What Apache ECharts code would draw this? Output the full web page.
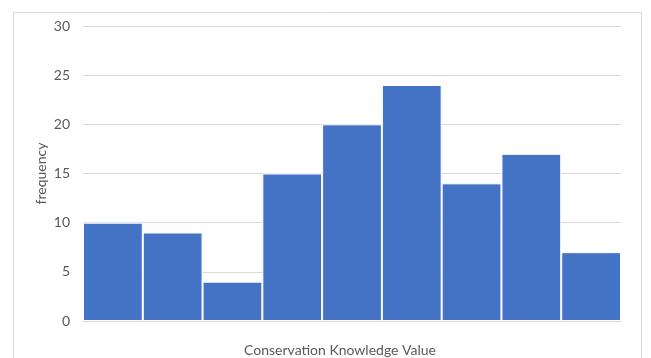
<!DOCTYPE html>
<html>
<head>
<meta charset="utf-8">
<script src="https://cdn.jsdelivr.net/npm/echarts@6/dist/echarts.min.js"></script>
<style>
  html, body { margin: 0; padding: 0; background: #fff; }
  #main { width: 651px; height: 358px; }
</style>
</head>
<body>
<div id="main"></div>
<script>
var chart = echarts.init(document.getElementById('main'));

// histogram bins (no labels shown on the x axis)
var bins = ['b1', 'b2', 'b3', 'b4', 'b5', 'b6', 'b7', 'b8', 'b9'];
var frequency = [10, 9, 4, 15, 20, 24, 14, 17, 7];
var yTicks = [0, 5, 10, 15, 20, 25, 30];

var font = 'Lato';

var option = {
    backgroundColor: '#fff',
    animation: false,
    graphic: [{
        type: 'rect',
        left: 11,
        top: 10,
        shape: { width: 628, height: 360 },
        style: { fill: 'none', stroke: '#d9d9d9', lineWidth: 1 },
        silent: true
    }],
    grid: { left: 83, right: 30, top: 26, bottom: 37, outerBoundsMode: 'none', containLabel: false },
    xAxis: {
        type: 'category',
        data: bins,
        name: 'Conservation Knowledge Value',
        nameLocation: 'middle',
        nameGap: 22,
        nameMoveOverlap: false,
        nameTextStyle: { color: '#595959', fontSize: 14, fontFamily: font, padding: [0, 24, 0, 0] },
        axisLine: { show: false },
        axisTick: { show: false },
        axisLabel: { show: false },
        splitLine: { show: false }
    },
    yAxis: {
        type: 'value',
        min: yTicks[0],
        max: yTicks[yTicks.length - 1],
        interval: 5,
        name: 'frequency',
        nameLocation: 'middle',
        nameGap: 35,
        nameMoveOverlap: false,
        nameTextStyle: { color: '#595959', fontSize: 14, fontFamily: font },
        axisLine: { show: false },
        axisTick: { show: false },
        axisLabel: { color: '#595959', fontSize: 14, fontFamily: font, margin: 13 },
        splitLine: { lineStyle: { color: '#d9d9d9', width: 1 } }
    },
    series: [{
        type: 'bar',
        data: frequency,
        barCategoryGap: 0,
        itemStyle: { color: '#4472c4', borderColor: '#fff', borderWidth: 1 }
    }]
};

chart.setOption(option);
</script>
</body>
</html>
